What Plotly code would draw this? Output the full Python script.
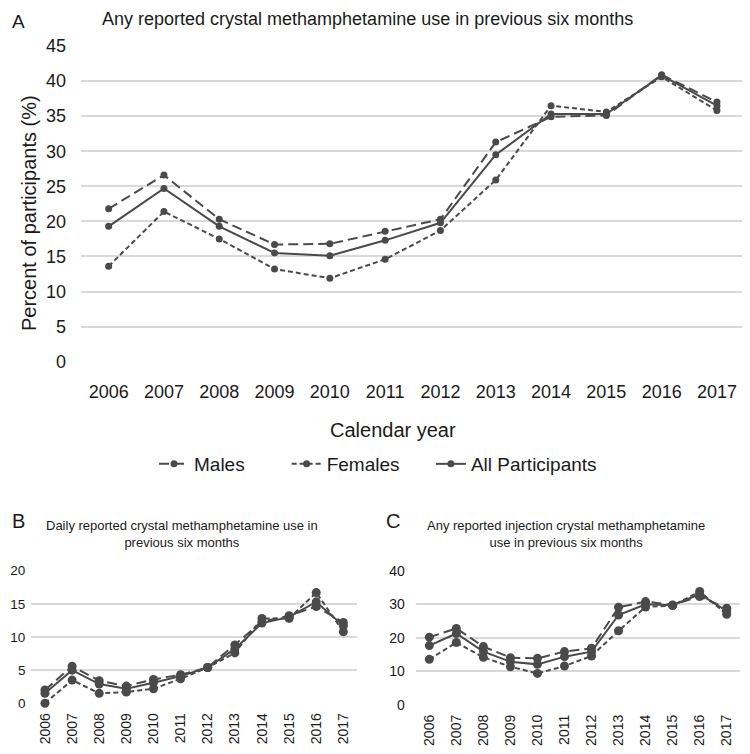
import plotly.graph_objects as go

years = [str(y) for y in range(2006, 2018)]

# Panel A: any reported crystal methamphetamine use
males_a = [21.8, 26.6, 20.3, 16.7, 16.8, 18.6, 20.3, 31.3, 34.9, 35.1, 40.9, 37.0]
females_a = [13.6, 21.4, 17.5, 13.2, 11.9, 14.6, 18.7, 25.9, 36.5, 35.6, 40.6, 35.8]
all_a = [19.3, 24.7, 19.3, 15.5, 15.1, 17.3, 19.8, 29.5, 35.3, 35.3, 40.8, 36.5]

# Panel B: daily reported use
males_b = [2.0, 5.6, 3.4, 2.6, 3.6, 4.3, 5.4, 8.8, 12.3, 13.2, 14.6, 12.2]
females_b = [0.0, 3.5, 1.5, 1.7, 2.2, 3.7, 5.4, 7.6, 12.8, 12.8, 16.7, 10.8]
all_b = [1.5, 5.0, 2.9, 2.2, 3.1, 4.1, 5.4, 8.2, 12.1, 13.0, 15.3, 11.7]

# Panel C: any reported injection use
males_c = [20.2, 22.8, 17.4, 14.1, 13.9, 15.9, 16.9, 29.1, 30.8, 29.8, 32.3, 28.8]
females_c = [13.6, 18.6, 14.2, 11.4, 9.4, 11.6, 14.6, 22.1, 29.2, 29.6, 33.8, 27.0]
all_c = [17.7, 21.3, 15.9, 12.9, 12.1, 14.4, 15.9, 26.8, 30.0, 29.7, 33.0, 28.0]

series_names = ["Males", "Females", "All Participants"]
NB = "\u00a0"
legend_labels = ["Males" + NB * 7, "Females" + NB * 5, "All Participants"]

LINE = "#4a4a4a"
GRID = "#d9d9d9"
TEXT = "#1a1a1a"
FONT = "Liberation Sans, Arial, sans-serif"

# page body has an 8px margin; lay out in window pixels and convert
OFF = 8.0
W = 750.0 - OFF
H = 754.0 - OFF

dashes = ["10px,5px", "5px,3px", "solid"]

fig = go.Figure()

panels = [
    ("x", "y", [males_a, females_a, all_a], 7, True),
    ("x2", "y2", [males_b, females_b, all_b], 9, False),
    ("x3", "y3", [males_c, females_c, all_c], 9, False),
]
for xa, ya, data, msize, show in panels:
    for name, label, vals, dash in zip(series_names, legend_labels, data, dashes):
        fig.add_trace(go.Scatter(
            x=years, y=vals, name=label if show else name, mode="lines+markers",
            line=dict(color=LINE, width=2, dash=dash),
            marker=dict(color=LINE, size=msize),
            xaxis=xa, yaxis=ya, showlegend=show, cliponaxis=False,
        ))

def px_x(x):
    return (x - OFF) / W

def px_y(y):
    return (H - (y - OFF)) / H

def xdom(l, r):
    return [px_x(l), px_x(r)]

def ydom(bottom_px, top_px):
    return [px_y(bottom_px), px_y(top_px)]

common_y = dict(showgrid=True, gridcolor=GRID, gridwidth=1.5, zeroline=False,
                showline=False, ticks="", color=TEXT, automargin=False)
common_x = dict(type="category", showgrid=False, zeroline=False, showline=False,
                ticks="", color=TEXT, range=[-0.5, 11.5], automargin=False)

fig.update_layout(
    width=int(W), height=int(H), autosize=False,
    margin=dict(l=0, r=0, t=0, b=0, pad=0, autoexpand=False),
    paper_bgcolor="white", plot_bgcolor="white",
    font=dict(family=FONT, color=TEXT),
    xaxis=dict(domain=xdom(81, 744.6), anchor="y", tickfont=dict(size=18),
               ticklabelstandoff=17, **common_x),
    yaxis=dict(domain=ydom(361.7, 46), anchor="x", range=[0, 45], dtick=5,
               tickfont=dict(size=18), ticklabelstandoff=14, **common_y),
    xaxis2=dict(domain=xdom(31.4, 356.9), anchor="y2", tickangle=-90,
                tickfont=dict(size=14), ticklabelstandoff=6, **common_x),
    yaxis2=dict(domain=ydom(703.3, 570.7), anchor="x2", range=[0, 20], dtick=5,
                tickfont=dict(size=13.5), ticklabelstandoff=5, **common_y),
    xaxis3=dict(domain=xdom(415.8, 740.2), anchor="y3", tickangle=-90,
                tickfont=dict(size=14), ticklabelstandoff=6, **common_x),
    yaxis3=dict(domain=ydom(705, 570.7), anchor="x3", range=[0, 40], dtick=10,
                tickfont=dict(size=14), ticklabelstandoff=10, **common_y),
    legend=dict(orientation="h", x=px_x(378), xanchor="center",
                y=px_y(464), yanchor="middle",
                font=dict(size=19, color=TEXT), itemwidth=30,
                bgcolor="rgba(0,0,0,0)"),
    showlegend=True,
)

def ann(text, x_px, y_px, size, angle=0, xanchor="center"):
    fig.add_annotation(text=text, x=px_x(x_px), y=px_y(y_px),
                       xref="paper", yref="paper", showarrow=False,
                       xanchor=xanchor, yanchor="middle", textangle=angle,
                       font=dict(size=size, color=TEXT, family=FONT))

ann("A", 18, 21, 19)
ann("Any reported crystal methamphetamine use in previous six months", 367, 19, 18)
ann("Percent of participants (%)", 29, 213, 20, angle=-90)
ann("Calendar year", 393, 430, 20)
ann("B", 18, 521, 20)
ann("Daily reported crystal methamphetamine use in<br>previous six months", 182, 534, 13)
ann("C", 393, 521, 20)
ann("Any reported injection crystal methamphetamine<br>use in previous six months", 566, 534, 13)

fig.write_html("out.html")
